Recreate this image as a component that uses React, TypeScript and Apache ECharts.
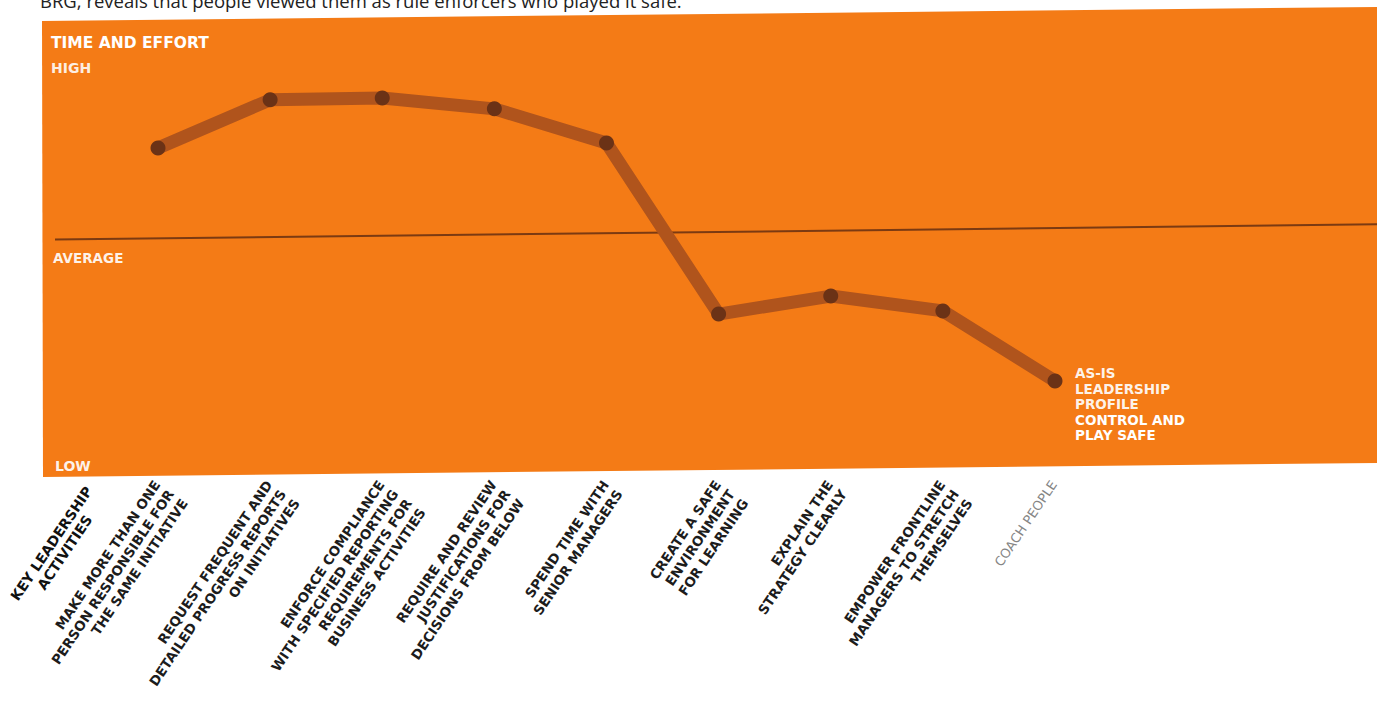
import React, { useEffect, useRef } from "react";
import * as echarts from "echarts";

// ---------- data ----------
const ACTIVITIES: string[] = [
  "MAKE MORE THAN ONE\nPERSON RESPONSIBLE FOR\nTHE SAME INITIATIVE",
  "REQUEST FREQUENT AND\nDETAILED PROGRESS REPORTS\nON INITIATIVES",
  "ENFORCE COMPLIANCE\nWITH SPECIFIED REPORTING\nREQUIREMENTS FOR\nBUSINESS ACTIVITIES",
  "REQUIRE AND REVIEW\nJUSTIFICATIONS FOR\nDECISIONS FROM BELOW",
  "SPEND TIME WITH\nSENIOR MANAGERS",
  "CREATE A SAFE\nENVIRONMENT\nFOR LEARNING",
  "EXPLAIN THE\nSTRATEGY CLEARLY",
  "EMPOWER FRONTLINE\nMANAGERS TO STRETCH\nTHEMSELVES",
  "COACH PEOPLE",
];
const MUTED_ACTIVITIES: string[] = ["COACH PEOPLE"];
const EFFORT: number[] = [7.2, 8.27, 8.31, 8.07, 7.31, 3.51, 3.91, 3.58, 2.02];
const AVERAGE = 5.33;
const Y_MIN = 0;
const Y_MAX = 10;

const AXIS_TITLE = "KEY LEADERSHIP\nACTIVITIES";
const PANEL_TITLE = "TIME AND EFFORT";
const LEVEL_HIGH = "HIGH";
const LEVEL_AVERAGE = "AVERAGE";
const LEVEL_LOW = "LOW";
const PROFILE_LINES: string[] = ["AS-IS", "LEADERSHIP", "PROFILE"];
const PROFILE_NAME: string[] = ["CONTROL AND", "PLAY SAFE"];
const RUNNING_TEXT =
  "BRG, reveals that people viewed them as rule enforcers who played it safe.";

// ---------- styling ----------
const W = 1377;
const H = 701;
const ORANGE = "#f47b16";
const BAND = "#b0541c";
const DOT = "#6b3216";
const AVG_LINE = "#7b3a12";
const WHITE_FONT = "DejaVu Sans";
const LABEL_FONT = "DejaVu Sans";
const SCAN_TILT = -0.0115; // the scanned page is slightly rotated

export default function App() {
  const ref = useRef<HTMLDivElement>(null);

  useEffect(() => {
    if (!ref.current) return;
    const chart = echarts.init(ref.current, undefined, { renderer: "svg" });

    const gridTop = 22;
    const gridBottom = H - 472;

    chart.setOption({
      animation: false,
      backgroundColor: "#ffffff",
      grid: [
        { left: 158, right: W - 1055, top: gridTop, bottom: gridBottom },
        { left: 150, right: W - 1047, top: gridTop, bottom: gridBottom },
      ],
      xAxis: [
        {
          type: "category",
          gridIndex: 0,
          data: ACTIVITIES,
          boundaryGap: false,
          axisLine: { show: false },
          axisTick: { show: false },
          axisLabel: { show: false },
          splitLine: { show: false },
        },
        {
          type: "category",
          gridIndex: 1,
          data: ACTIVITIES,
          boundaryGap: false,
          axisLine: { show: false },
          axisTick: { show: false },
          splitLine: { show: false },
          axisLabel: {
            interval: 0,
            rotate: 56,
            align: "right",
            verticalAlign: "top",
            margin: 13,
            fontFamily: LABEL_FONT,
            fontWeight: "bold",
            fontSize: 13.5,
            lineHeight: 16.5,
            color: "#1c1c1c",
            formatter: (v: string) =>
              MUTED_ACTIVITIES.includes(v) ? `{m|${v}}` : v,
            rich: {
              m: {
                fontFamily: LABEL_FONT,
                fontWeight: "normal",
                fontSize: 13,
                lineHeight: 16.5,
                color: "#858585",
              },
            },
          },
        },
      ],
      yAxis: [
        { type: "value", gridIndex: 0, min: Y_MIN, max: Y_MAX, show: false },
        { type: "value", gridIndex: 1, min: Y_MIN, max: Y_MAX, show: false },
      ],
      series: [
        {
          type: "line",
          xAxisIndex: 0,
          yAxisIndex: 0,
          data: EFFORT,
          z: 5,
          symbol: "circle",
          symbolSize: 15,
          itemStyle: { color: DOT },
          lineStyle: { color: BAND, width: 13, cap: "round", join: "round" },
        },
      ],
    });

    const avgY = chart.convertToPixel({ yAxisIndex: 0 }, AVERAGE) as number;
    const pivotX = 700;
    const white = (size: number, weight = "bold") => ({
      fill: "#ffffff",
      fontFamily: WHITE_FONT,
      fontWeight: weight,
      fontSize: size,
      verticalAlign: "middle",
      align: "left",
    });

    const profileTexts = PROFILE_LINES.map((t, i) => ({
      type: "text",
      z: 20,
      x: 1075,
      y: 373 + i * 15.5,
      style: { ...white(13.5), text: t, opacity: 0.93 },
    }));
    const profileName = PROFILE_NAME.map((t, i) => ({
      type: "text",
      z: 20,
      x: 1075,
      y: 373 + (PROFILE_LINES.length + i) * 15.5,
      style: { ...white(13.5), text: t },
    }));

    chart.setOption({
      graphic: [
        {
          type: "polygon",
          z: -10,
          silent: true,
          shape: {
            points: [
              [42, 21],
              [W, 7],
              [W, 463],
              [43, 477],
            ],
          },
          style: { fill: ORANGE },
        },
        {
          type: "line",
          z: 1,
          silent: true,
          shape: {
            x1: 55,
            y1: avgY + (55 - pivotX) * SCAN_TILT,
            x2: W,
            y2: avgY + (W - pivotX) * SCAN_TILT,
          },
          style: { stroke: AVG_LINE, lineWidth: 2 },
        },
        {
          type: "text",
          z: 20,
          x: 51,
          y: 43,
          style: { ...white(15.5), text: PANEL_TITLE },
        },
        {
          type: "text",
          z: 20,
          x: 51,
          y: 68,
          style: { ...white(14), text: LEVEL_HIGH, opacity: 0.9 },
        },
        {
          type: "text",
          z: 20,
          x: 53,
          y: 258,
          style: { ...white(13.5), text: LEVEL_AVERAGE, opacity: 0.92 },
        },
        {
          type: "text",
          z: 20,
          x: 55,
          y: 466,
          style: { ...white(14), text: LEVEL_LOW, opacity: 0.92 },
        },
        ...profileTexts,
        ...profileName,
        {
          type: "text",
          z: 20,
          x: 58,
          y: 548,
          rotation: (56 * Math.PI) / 180,
          style: {
            text: AXIS_TITLE,
            fill: "#111111",
            fontFamily: "DejaVu Sans",
            fontWeight: "bold",
            fontSize: 14,
            lineHeight: 16,
            align: "center",
            verticalAlign: "middle",
          },
        },
        {
          type: "text",
          z: 20,
          x: 40,
          y: 0,
          style: {
            text: RUNNING_TEXT,
            fill: "#222222",
            fontFamily: "Open Sans",
            fontSize: 18.5,
            align: "left",
            verticalAlign: "middle",
          },
        },
      ],
    });

    return () => chart.dispose();
  }, []);

  return (
    <div
      ref={ref}
      style={{ position: "fixed", left: 0, top: 0, width: W, height: H }}
    />
  );
}
